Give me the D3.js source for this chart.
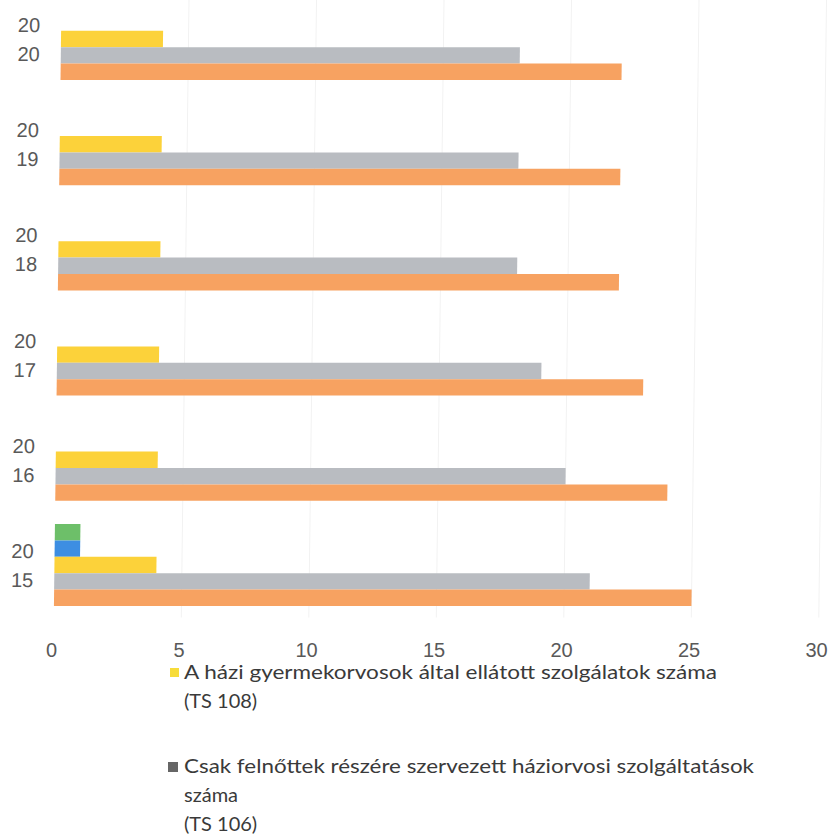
<!DOCTYPE html>
<html>
<head>
<meta charset="utf-8">
<script src="https://cdn.jsdelivr.net/npm/d3@7"></script>
<style>
  html, body { margin: 0; padding: 0; background: #fff; }
  svg { display: block; }
</style>
</head>
<body>
<svg id="chart" width="834" height="835"></svg>
<script>
// ---- data ----
const years = ["2015", "2016", "2017", "2018", "2019", "2020"];
const seriesKeys = ["s5", "s4", "ts108", "ts106", "s1"]; // top-to-bottom within a group
const s5Values    = [1, 0, 0, 0, 0, 0];       // green
const s4Values    = [1, 0, 0, 0, 0, 0];       // blue
const ts108Values = [4, 4, 4, 4, 4, 4];       // yellow
const ts106Values = [21, 20, 19, 18, 18, 18]; // gray
const s1Values    = [25, 24, 23, 22, 22, 22]; // orange
const xTicks = [0, 5, 10, 15, 20, 25, 30];
const legendItems = [
  { key: "ts108", lines: ["A házi gyermekorvosok által ellátott szolgálatok száma", "(TS 108)"] },
  { key: "ts106", lines: ["Csak felnőttek részére szervezett háziorvosi szolgáltatások", "száma", "(TS 106)"] }
];

const valuesByKey = { s5: s5Values, s4: s4Values, ts108: ts108Values, ts106: ts106Values, s1: s1Values };
const colors = { s5: "#6dbf69", s4: "#3d8ee2", ts108: "#fcd23a", ts106: "#b9bcc1", s1: "#f7a261" };
const legendMarkerColors = { ts108: "#f7dc3a", ts106: "#666666" };

const rows = years.map((y, i) => {
  const o = { year: y };
  seriesKeys.forEach(k => o[k] = valuesByKey[k][i]);
  return o;
});

// ---- layout ----
const svg = d3.select("#chart");
const plotTop = -13.6, plotBottom = 617.6;
const x = d3.scaleLinear().domain([0, 30]).range([54, 819]);
const y0 = d3.scaleBand().domain(years.slice().reverse()).range([plotTop, plotBottom]).padding(0);
const bw = y0.bandwidth();
const groupH = 82;
const y1 = d3.scaleBand().domain(seriesKeys).range([(bw - groupH) / 2, (bw + groupH) / 2]).padding(0);

// slight scan skew of the original plot area
const plot = svg.append("g").attr("transform", "translate(7.5,0) skewX(-0.716)");

// gridlines
plot.append("g")
  .selectAll("line")
  .data(xTicks.slice(1))
  .join("line")
  .attr("x1", d => x(d)).attr("x2", d => x(d))
  .attr("y1", 0).attr("y2", plotBottom)
  .attr("stroke", "#f2f2f2").attr("stroke-width", 1);

// bars
const groups = plot.append("g")
  .selectAll("g")
  .data(rows)
  .join("g")
  .attr("transform", d => `translate(0,${y0(d.year)})`);

groups.selectAll("rect")
  .data(d => seriesKeys.map(k => ({ key: k, value: d[k] })).filter(e => e.value > 0))
  .join("rect")
  .attr("x", x(0))
  .attr("y", d => y1(d.key))
  .attr("width", d => x(d.value) - x(0))
  .attr("height", y1.bandwidth())
  .attr("fill", d => colors[d.key]);

// category labels (two lines: "20" / "15")
const catG = plot.append("g")
  .attr("font-family", "'Liberation Sans', Arial, sans-serif")
  .attr("font-size", 20)
  .attr("fill", "#595959")
  .attr("text-anchor", "end");
years.forEach(yr => {
  const c = y0(yr) + bw / 2;
  catG.append("text").attr("x", 33).attr("y", c - 7).text(yr.slice(0, 2));
  catG.append("text").attr("x", 33).attr("y", c + 22).text(yr.slice(2));
});

// x axis tick labels
const xAxis = d3.axisBottom(x).tickValues(xTicks).tickSize(0).tickPadding(0);
const axG = svg.append("g").attr("transform", "translate(-3,642)").call(xAxis);
axG.select(".domain").remove();
axG.selectAll("text")
  .attr("font-family", "'Liberation Sans', Arial, sans-serif")
  .attr("font-size", 20)
  .attr("fill", "#595959")
  .attr("dy", 0)
  .attr("y", 15);

// legend
const legendLayout = [
  { mx: 170, my: 668, ms: 9, tx: 184, base: 679, widths: [533, null] },
  { mx: 168, my: 762, ms: 10, tx: 184, base: 773, widths: [570, null, null] }
];
const lineH = 29;
const legG = svg.append("g")
  .attr("font-family", "Lato, 'Open Sans', sans-serif")
  .attr("font-size", 20)
  .attr("fill", "#3a3a3a");
legendItems.forEach((item, i) => {
  const L = legendLayout[i];
  legG.append("rect")
    .attr("x", L.mx).attr("y", L.my)
    .attr("width", L.ms).attr("height", L.ms)
    .attr("fill", legendMarkerColors[item.key]);
  item.lines.forEach((ln, j) => {
    const t = legG.append("text")
      .attr("x", L.tx)
      .attr("y", L.base + j * lineH)
      .text(ln);
    if (L.widths[j]) t.attr("textLength", L.widths[j]).attr("lengthAdjust", "spacingAndGlyphs");
  });
});
</script>
</body>
</html>
